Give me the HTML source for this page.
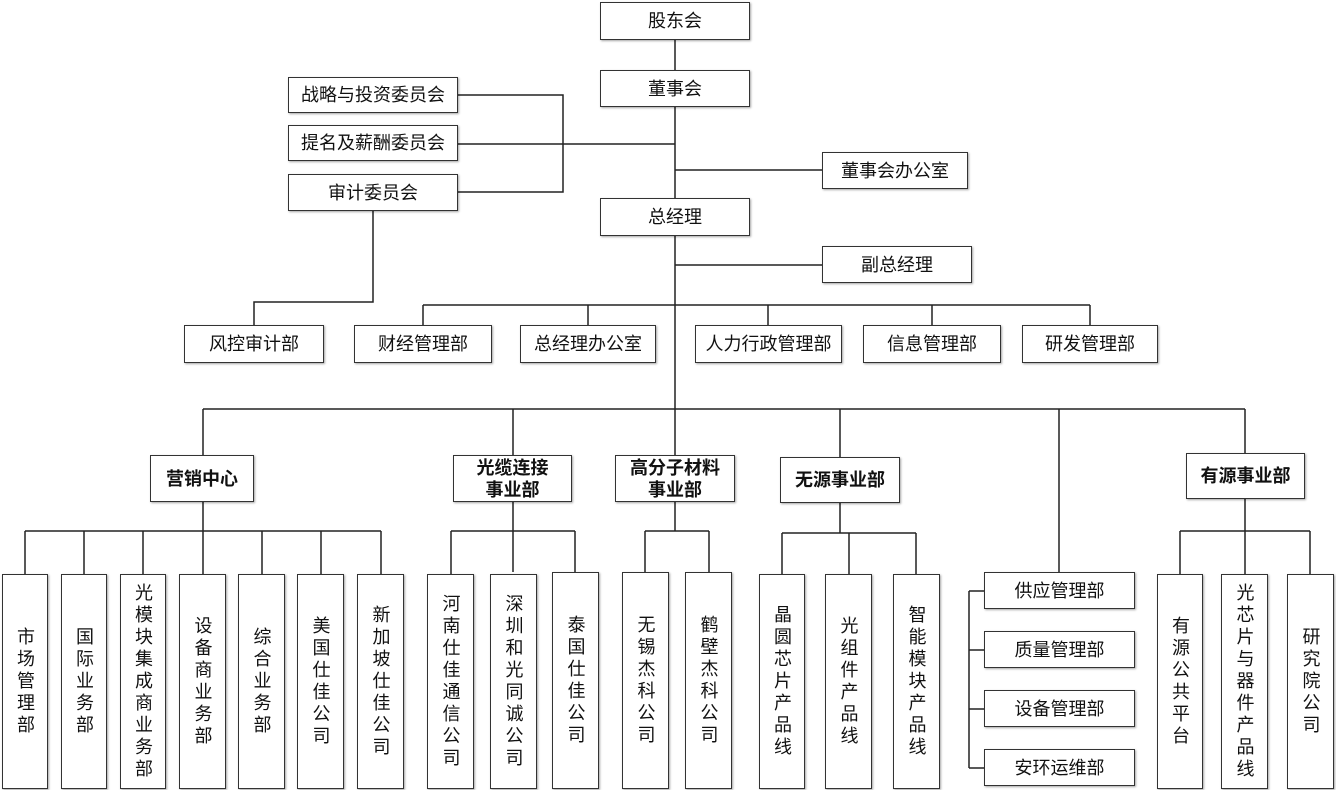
<!DOCTYPE html>
<html><head><meta charset="utf-8"><style>
body{margin:0;width:1336px;height:790px;background:#fff;position:relative;overflow:hidden;font-family:"Liberation Sans","Noto Sans CJK SC",sans-serif;color:#111}
.b{position:absolute;box-sizing:border-box;border:1px solid #333;background:#fff;box-shadow:1px 1px 2px rgba(0,0,0,.35);display:flex;align-items:center;justify-content:center;font-size:18px;text-align:center;line-height:22px}
.bo{font-weight:bold}
.v{writing-mode:vertical-rl;letter-spacing:4px;text-orientation:upright}
svg{position:absolute;left:0;top:0}
</style></head><body>
<svg width="1336" height="790" fill="none" stroke="#222" stroke-width="1.5">
<path d="M675 40V410M203 409H1245M203 409V455M513 409V455M675 409V455M840 409V457M1059 409V572M1245 409V453"/>
<path d="M458 95H563V192H458M458 144H675M675 170H822M675 265H822"/>
<path d="M373 211V302H254V325M423 305H1090M423 305V325M588 305V325M768 305V325M932 305V325M1090 305V325"/>
<path d="M203 502V531M25 531H381M25 531V574M84 531V574M143 531V574M203 531V574M262 531V574M321 531V574M381 531V574"/>
<path d="M513 502V572M451 531H575M451 531V574M575 531V574"/>
<path d="M675 502V531M645 531H709M645 531V574M709 531V574"/>
<path d="M840 503V533M782 533H916M782 533V574M849 533V574M916 533V574"/>
<path d="M1245 499V531M1180 531H1310M1180 531V574M1245 531V574M1310 531V574"/>
<path d="M969 591V768M969 591H984M969 650H984M969 709H984M969 768H984"/>
</svg>
<div class="b" style="left:600px;top:2px;width:150px;height:38px">股东会</div>
<div class="b" style="left:600px;top:70px;width:150px;height:37px">董事会</div>
<div class="b" style="left:288px;top:77px;width:170px;height:36px">战略与投资委员会</div>
<div class="b" style="left:288px;top:125px;width:170px;height:36px">提名及薪酬委员会</div>
<div class="b" style="left:288px;top:174px;width:170px;height:37px">审计委员会</div>
<div class="b" style="left:822px;top:152px;width:146px;height:37px">董事会办公室</div>
<div class="b" style="left:600px;top:198px;width:150px;height:38px">总经理</div>
<div class="b" style="left:822px;top:246px;width:150px;height:37px">副总经理</div>
<div class="b" style="left:184px;top:325px;width:140px;height:38px">风控审计部</div>
<div class="b" style="left:354px;top:325px;width:138px;height:38px">财经管理部</div>
<div class="b" style="left:520px;top:325px;width:136px;height:38px">总经理办公室</div>
<div class="b" style="left:695px;top:325px;width:147px;height:38px">人力行政管理部</div>
<div class="b" style="left:863px;top:325px;width:138px;height:38px">信息管理部</div>
<div class="b" style="left:1022px;top:325px;width:136px;height:38px">研发管理部</div>
<div class="b bo" style="left:150px;top:455px;width:104px;height:47px">营销中心</div>
<div class="b bo" style="left:453px;top:455px;width:119px;height:47px">光缆连接<br>事业部</div>
<div class="b bo" style="left:615px;top:455px;width:120px;height:47px">高分子材料<br>事业部</div>
<div class="b bo" style="left:780px;top:457px;width:120px;height:46px">无源事业部</div>
<div class="b bo" style="left:1186px;top:453px;width:119px;height:46px">有源事业部</div>
<div class="b" style="left:984px;top:572px;width:151px;height:37px">供应管理部</div>
<div class="b" style="left:984px;top:631px;width:151px;height:37px">质量管理部</div>
<div class="b" style="left:984px;top:690px;width:151px;height:37px">设备管理部</div>
<div class="b" style="left:984px;top:749px;width:151px;height:37px">安环运维部</div>
<div class="b" style="left:2px;top:574px;width:46px;height:215px"><span class="v">市场管理部</span></div>
<div class="b" style="left:61px;top:574px;width:46px;height:215px"><span class="v">国际业务部</span></div>
<div class="b" style="left:120px;top:574px;width:46px;height:215px"><span class="v">光模块集成商业务部</span></div>
<div class="b" style="left:179px;top:574px;width:47px;height:215px"><span class="v">设备商业务部</span></div>
<div class="b" style="left:238px;top:574px;width:47px;height:215px"><span class="v">综合业务部</span></div>
<div class="b" style="left:297px;top:574px;width:47px;height:215px"><span class="v">美国仕佳公司</span></div>
<div class="b" style="left:357px;top:574px;width:47px;height:215px"><span class="v">新加坡仕佳公司</span></div>
<div class="b" style="left:427px;top:574px;width:47px;height:215px"><span class="v">河南仕佳通信公司</span></div>
<div class="b" style="left:490px;top:574px;width:47px;height:215px"><span class="v">深圳和光同诚公司</span></div>
<div class="b" style="left:552px;top:572px;width:47px;height:217px"><span class="v">泰国仕佳公司</span></div>
<div class="b" style="left:622px;top:572px;width:47px;height:217px"><span class="v">无锡杰科公司</span></div>
<div class="b" style="left:685px;top:572px;width:47px;height:217px"><span class="v">鹤壁杰科公司</span></div>
<div class="b" style="left:759px;top:574px;width:46px;height:215px"><span class="v">晶圆芯片产品线</span></div>
<div class="b" style="left:825px;top:574px;width:47px;height:215px"><span class="v">光组件产品线</span></div>
<div class="b" style="left:893px;top:574px;width:47px;height:215px"><span class="v">智能模块产品线</span></div>
<div class="b" style="left:1157px;top:574px;width:46px;height:215px"><span class="v">有源公共平台</span></div>
<div class="b" style="left:1221px;top:574px;width:47px;height:215px"><span class="v">光芯片与器件产品线</span></div>
<div class="b" style="left:1287px;top:574px;width:47px;height:215px"><span class="v">研究院公司</span></div>
</body></html>
